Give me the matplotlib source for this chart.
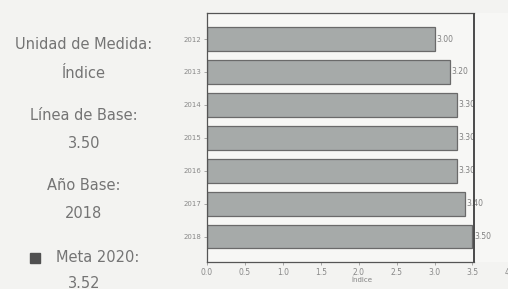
import numpy as np
import matplotlib
matplotlib.use("Agg")
from matplotlib import pyplot as plt

# datos del indicador
years = ['2012', '2013', '2014', '2015', '2016', '2017', '2018']
values = [3.00, 3.20, 3.30, 3.30, 3.30, 3.40, 3.50]
meta = 3.52
xticks = [0.0, 0.5, 1.0, 1.5, 2.0, 2.5, 3.0, 3.5, 4.0]

info_lines = [('Unidad de Medida:', 'Índice'),
              ('Línea de Base:', '3.50'),
              ('Año Base:', '2018')]
meta_label = ('Meta 2020:', '3.52')

plt.rcParams['font.family'] = ['DejaVu Sans']
bg = '#f3f3f1'
textColor = '#747474'

fig = plt.figure(figsize=(5.08, 2.89), dpi=100)
fig.patch.set_facecolor(bg)

ax = fig.add_axes([207 / 508, 1 - 262 / 289, 311 / 508, 249 / 289])
ax.set_facecolor('#f7f7f5')

yPos = np.arange(len(years))
ax.barh(yPos, values, height=0.72, color='#a6aaa9', edgecolor='#6a6a6a', linewidth=0.9, zorder=2)
for y, v in zip(yPos, values):
    ax.text(v + 0.02, y, '%.2f' % v, va='center', ha='left', fontsize=5.5, color='#808080', zorder=3)

ax.axvline(meta, color='#4a4a4a', linewidth=1.4, zorder=4)

ax.set_xlim(0, 4.1)
ax.set_ylim(6.77, -0.79)
ax.set_yticks(yPos)
ax.set_yticklabels(years, fontsize=5, color='#808080')
ax.set_xticks(xticks)
ax.set_xticklabels(['%.1f' % t for t in xticks], fontsize=5.5, color='#808080')
ax.set_xlabel('Índice', fontsize=5, color='#808080', labelpad=0)
ax.tick_params(length=2, width=0.5, colors='#888888', pad=2)

for side in ['top', 'bottom', 'left']:
    ax.spines[side].set_color('#555555')
    ax.spines[side].set_linewidth(0.9)
ax.spines['top'].set_bounds(0, meta)
ax.spines['bottom'].set_bounds(0, meta)
ax.spines['right'].set_visible(False)

# panel de texto a la izquierda
yTitle = [45, 116, 186]
for (title, val), yy in zip(info_lines, yTitle):
    fig.text(84 / 508, 1 - yy / 289, title, ha='center', va='center', fontsize=10.5, color=textColor)
    fig.text(84 / 508, 1 - (yy + 28) / 289, val, ha='center', va='center', fontsize=10.5, color=textColor)

fig.patches.append(plt.Rectangle((30 / 508, 1 - 263 / 289), 10 / 508, 10 / 289,
                                 transform=fig.transFigure, color='#505050'))
fig.text(98 / 508, 1 - 258 / 289, meta_label[0], ha='center', va='center', fontsize=10.5, color=textColor)
fig.text(84 / 508, 1 - 284 / 289, meta_label[1], ha='center', va='center', fontsize=10.5, color=textColor)

fig.savefig('out.png', dpi=100, facecolor=bg)
